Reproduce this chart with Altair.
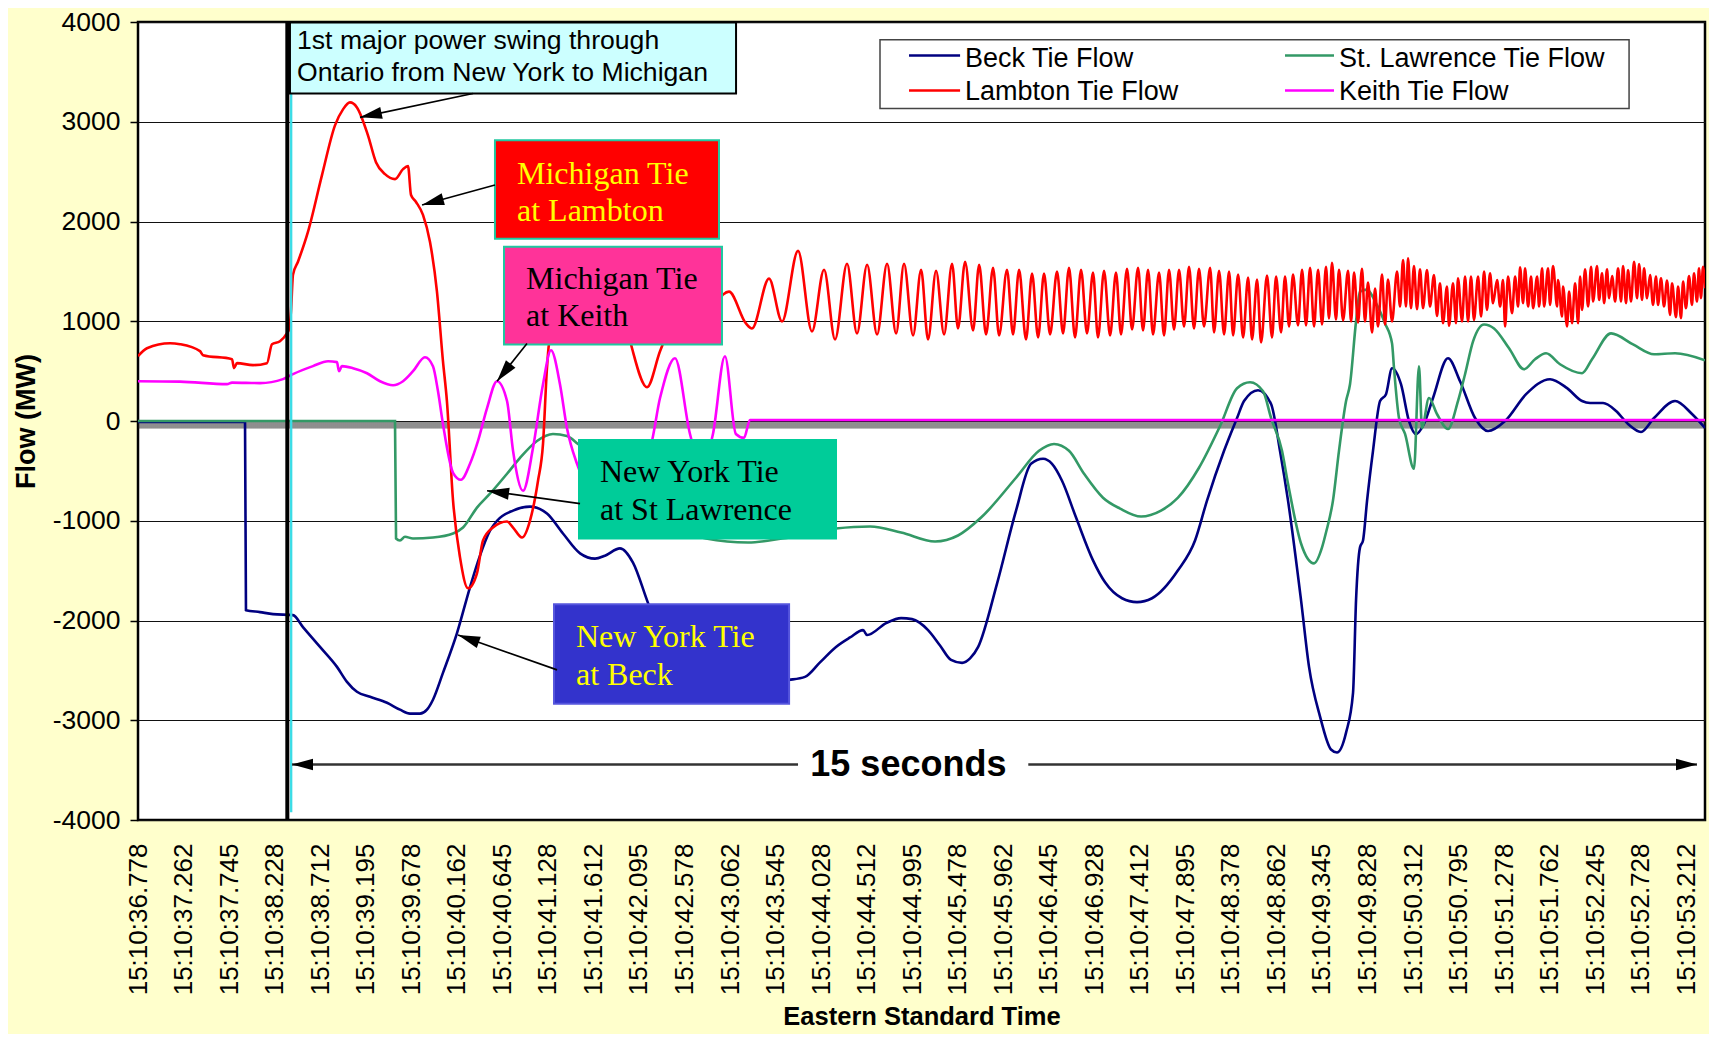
import math
import altair as alt
import pandas as pd

# ---------------- axes / frame ----------------
T0, T1 = 36.778, 53.411          # seconds after 15:10
V0, V1 = -4000, 4000
W, H = 1567, 798

label_times = [36.778, 37.262, 37.745, 38.228, 38.712, 39.195, 39.678, 40.162, 40.645,
               41.128, 41.612, 42.095, 42.578, 43.062, 43.545, 44.028, 44.512, 44.995,
               45.478, 45.962, 46.445, 46.928, 47.412, 47.895, 48.378, 48.862, 49.345,
               49.828, 50.312, 50.795, 51.278, 51.762, 52.245, 52.728, 53.212]
flow_ticks = [-4000, -3000, -2000, -1000, 0, 1000, 2000, 3000, 4000]

# ---------------- series ----------------
beck_t = [36.778, 37.914, 37.924, 38.073, 38.211, 38.423, 38.529, 38.710, 38.890, 38.996,
          39.102, 39.241, 39.421, 39.559, 39.665, 39.771, 39.845, 39.909, 40.015, 40.164,
          40.302, 40.408, 40.514, 40.589, 40.759, 40.939, 41.119, 41.289, 41.470, 41.629,
          41.735, 41.894, 42.032, 42.192, 42.372, 42.637, 43.167, 43.540, 43.689, 43.858,
          44.017, 44.187, 44.336, 44.474, 44.517, 44.719, 44.878, 44.994, 45.164, 45.291,
          45.408, 45.525, 45.610, 45.696, 45.897, 46.098, 46.257, 46.385, 46.480, 46.586,
          46.735, 46.915, 47.043, 47.223, 47.382, 47.541, 47.817, 47.998, 48.125, 48.306,
          48.444, 48.518, 48.667, 48.805, 48.900, 48.985, 49.123, 49.208, 49.325, 49.441,
          49.505, 49.601, 49.675, 49.707, 49.749, 49.781, 49.824, 49.887, 49.962, 50.025,
          50.089, 50.184, 50.269, 50.343, 50.428, 50.524, 50.683, 50.811, 50.970, 51.108,
          51.289, 51.512, 51.766, 51.947, 52.106, 52.191, 52.329, 52.467, 52.594, 52.732,
          52.870, 53.093, 53.273, 53.411]
beck_v = [-10, -10, -1896, -1916, -1936, -1946, -2066, -2265, -2465, -2615,
          -2715, -2765, -2825, -2894, -2934, -2934, -2894, -2794, -2525, -2126,
          -1667, -1350, -1100, -1000, -898, -858, -928, -1128, -1327, -1380,
          -1350, -1277, -1420, -1826, -2250, -2500, -2600, -2610, -2595, -2565,
          -2420, -2265, -2170, -2096, -2146, -2026, -1976, -1986, -2096, -2250,
          -2395, -2425, -2380, -2265, -1627, -898, -429, -379, -430, -599,
          -968, -1397, -1617, -1777, -1816, -1777, -1497, -1198, -798, -299,
          30, 200, 309, 170, -300, -798, -1796, -2465, -2964, -3293,
          -3323, -3124, -2725, -1796, -1267, -1198, -798, -299, 200, 269,
          529, 369, 0, -130, -30, 230, 629, 399, 30, -100,
          0, 269, 419, 329, 200, 180, 180, 100, -30, -110,
          30, 200, 70, -70]

stl_t = [36.778, 39.506, 39.517, 39.559, 39.612, 39.697, 39.909, 40.122, 40.228, 40.376,
         40.514, 40.695, 40.833, 41.013, 41.183, 41.331, 41.449, 41.894, 42.319, 42.637,
         42.807, 43.253, 43.614, 44.187, 44.549, 44.878, 45.238, 45.482, 45.727, 46.098,
         46.342, 46.501, 46.660, 46.820, 47.021, 47.202, 47.425, 47.637, 47.817, 48.040,
         48.264, 48.444, 48.582, 48.720, 48.805, 48.921, 48.985, 49.123, 49.261, 49.346,
         49.388, 49.462, 49.526, 49.601, 49.643, 49.707, 49.749, 49.824, 49.909, 50.015,
         50.089, 50.110, 50.163, 50.227, 50.322, 50.375, 50.407, 50.481, 50.566, 50.683,
         50.789, 50.864, 50.949, 51.066, 51.172, 51.331, 51.490, 51.607, 51.724, 51.872,
         52.106, 52.212, 52.414, 52.647, 52.870, 53.093, 53.411]
stl_v = [0, 0, -1178, -1198, -1160, -1178, -1168, -1128, -1068, -868,
         -729, -529, -369, -200, -130, -150, -230, -600, -950, -1130,
         -1178, -1218, -1178, -1078, -1058, -1118, -1208, -1148, -968, -569,
         -299, -230, -299, -529, -769, -878, -958, -898, -769, -469,
         -50, 329, 389, 299, 30, -299, -629, -1228, -1427, -1267,
         -1118, -798, -299, 200, 369, 1000, 1297, 1317, 1200, 978,
         778, 529, 30, -130, -479, 549, -70, 230, 70, -80,
         200, 469, 798, 968, 928, 729, 519, 619, 679, 569,
         479, 619, 878, 768, 669, 679, 609]

keith_t = [36.778, 37.224, 37.723, 37.776, 38.073, 38.317, 38.423, 38.635, 38.795, 38.890,
           38.911, 38.943, 39.060, 39.209, 39.347, 39.485, 39.591, 39.697, 39.824, 39.909,
           39.962, 40.015, 40.122, 40.206, 40.302, 40.387, 40.483, 40.589, 40.695, 40.759,
           40.865, 40.971, 41.077, 41.162, 41.257, 41.331, 41.438, 41.576, 41.735, 41.894,
           42.213, 42.319, 42.478, 42.637, 42.754, 42.881, 43.008, 43.124, 43.210, 43.274,
           53.411]
keith_v = [399, 395, 370, 385, 380, 420, 470, 550, 599, 590,
           499, 550, 529, 479, 399, 359, 399, 499, 639, 549,
           300, -30, -519, -589, -429, -200, 130, 399, 200, -299,
           -699, -269, 369, 709, 369, -70, -429, -700, -780, -600,
           -269, 230, 629, -130, -450, -130, 649, -130, -169, 10,
           10]

lamb_t = [36.778, 36.873, 37.118, 37.224, 37.436, 37.468, 37.776, 37.797, 37.829, 37.999,
          38.147, 38.200, 38.285, 38.360, 38.381, 38.402, 38.423, 38.476, 38.582, 38.731,
          38.869, 38.954, 39.028, 39.102, 39.219, 39.304, 39.400, 39.506, 39.591, 39.644,
          39.676, 39.729, 39.803, 39.877, 39.951, 40.015, 40.057, 40.122, 40.196, 40.281,
          40.376, 40.440, 40.546, 40.695, 40.759, 40.854, 40.939, 41.024, 41.077, 41.119,
          41.140, 41.364, 41.576, 41.788, 42.011, 42.022, 42.181, 42.319, 42.478, 42.637,
          42.807, 42.987, 43.051, 43.231, 43.295, 43.476, 43.614,
          43.784, 43.932, 44.060, 44.177, 44.304, 44.410, 44.517, 44.623, 44.729, 44.825,
          44.909, 45.005, 45.090, 45.164, 45.249, 45.334, 45.419, 45.482, 45.557, 45.642,
          45.706, 45.780, 45.854, 45.918, 46.002, 46.066, 46.130, 46.204, 46.268, 46.332,
          46.395, 46.459, 46.533, 46.597, 46.660, 46.724, 46.788, 46.851, 46.915, 46.968,
          47.032, 47.096, 47.159, 47.212, 47.276, 47.329, 47.393, 47.446, 47.499, 47.552,
          47.616, 47.669, 47.722, 47.775, 47.828, 47.881, 47.934, 47.987, 48.040, 48.093,
          48.158, 48.200, 48.253, 48.306, 48.359, 48.402, 48.455, 48.508, 48.561, 48.603,
          48.656, 48.699, 48.762, 48.815, 48.858, 48.911, 48.953, 48.996, 49.038, 49.091,
          49.134, 49.176, 49.219, 49.261, 49.304, 49.346, 49.388, 49.420, 49.452, 49.494,
          49.526, 49.569, 49.622, 49.654, 49.686, 49.728, 49.770, 49.802, 49.834, 49.877,
          49.909, 49.940, 49.983, 50.015, 50.046, 50.089, 50.142, 50.174, 50.206, 50.237,
          50.259, 50.290, 50.322, 50.354, 50.386, 50.418, 50.460, 50.492, 50.534, 50.566,
          50.598, 50.630, 50.672, 50.694, 50.736, 50.768, 50.789, 50.832, 50.864, 50.896,
          50.927, 50.959, 51.002, 51.034, 51.066, 51.097, 51.129, 51.161, 51.204, 51.236,
          51.267, 51.289, 51.320, 51.363, 51.395, 51.427, 51.448, 51.480, 51.501, 51.533,
          51.565, 51.586, 51.629, 51.650, 51.682, 51.703, 51.745, 51.766, 51.798, 51.841,
          51.851, 51.894, 51.904, 51.947, 51.968, 52.000, 52.032, 52.064, 52.085, 52.106,
          52.138, 52.170, 52.202, 52.223, 52.265, 52.287, 52.318, 52.340, 52.371, 52.393,
          52.425, 52.457, 52.488, 52.520, 52.541, 52.573, 52.594, 52.626, 52.658, 52.690,
          52.711, 52.743, 52.764, 52.796, 52.828, 52.859, 52.891, 52.912, 52.944, 52.976,
          53.008, 53.040, 53.061, 53.103, 53.125, 53.156, 53.178, 53.209, 53.241, 53.273,
          53.294, 53.326, 53.347, 53.368, 53.390, 53.411]
lamb_v = [650, 730, 780, 770, 700, 660, 620, 530, 580, 560,
          580, 770, 800, 880, 920, 1100, 1467, 1597, 1896, 2465,
          2964, 3124, 3194, 3144, 2864, 2595, 2475, 2425, 2525, 2555,
          2265, 2196, 2066, 1796, 1300, 600, 200, -798, -1367, -1677,
          -1527, -1198, -1068, -1008, -1068, -1168, -998, -599, -230, 529,
          768, 1350, 1500, 1300, 768, 729, 339, 699, 1050, 1300,
          950, 1267, 1297, 978, 928, 1427, 998,
          1706, 898, 1517, 818, 1577, 878, 1567, 868, 1577, 878,
          1577, 858, 1517, 818, 1507, 868, 1577, 928, 1597, 908,
          1567, 868, 1537, 858, 1517, 868, 1517, 818, 1477, 838,
          1477, 868, 1497, 878, 1537, 838, 1517, 878, 1487, 838,
          1507, 858, 1487, 868, 1527, 918, 1537, 908, 1517, 868,
          1487, 858, 1517, 918, 1517, 948, 1547, 928, 1527, 948,
          1537, 888, 1507, 868, 1497, 858, 1467, 838, 1437, 818,
          1417, 788, 1457, 838, 1447, 888, 1447, 948, 1467, 958,
          1517, 958, 1537, 948, 1517, 968, 1547, 1028, 1587, 1018,
          1517, 1008, 1507, 998, 1487, 988, 1527, 998, 1387, 888,
          1327, 948, 1467, 968, 1417, 998, 1497, 1148, 1613, 1148,
          1630, 1131, 1553, 1121, 1520, 1131, 1513, 1148, 1464, 1054,
          1380, 981, 1347, 955, 1380, 981, 1430, 998, 1447, 998,
          1447, 1014, 1447, 1048, 1497, 1114, 1480, 1181, 1414, 1148,
          1414, 948, 1447, 1081, 1447, 1148, 1540, 1181, 1530, 1148,
          1447, 1131, 1447, 1148, 1530, 1148, 1530, 1164, 1553, 1148,
          1414, 1048, 1347, 948, 1297, 981, 1380, 981, 1447, 1114,
          1520, 1148, 1547, 1198, 1553, 1214, 1480, 1181, 1520, 1231,
          1454, 1198, 1530, 1198, 1553, 1181, 1513, 1198, 1597, 1231,
          1573, 1214, 1530, 1231, 1464, 1164, 1447, 1164, 1430, 1148,
          1407, 1064, 1380, 1041, 1347, 1031, 1397, 1131, 1454, 1164,
          1480, 1198, 1530, 1231, 1547, 1330]

series_names = ["Beck Tie Flow", "St. Lawrence Tie Flow", "Lambton Tie Flow", "Keith Tie Flow"]
series_colors = ["#000080", "#339966", "#FF0000", "#FF00FF"]

SANS = "Liberation Sans"
SERIF = "Liberation Serif"

xs = alt.Scale(domain=[T0, T1], nice=False, zero=False)
ys = alt.Scale(domain=[V0, V1], nice=False, zero=False)

xaxis = alt.Axis(values=label_times, labelExpr="'15:10:' + format(datum.value, '.3f')",
                 labelAngle=270, labelAlign="right", labelBaseline="middle",
                 labelFont=SANS, labelFontSize=26, labelColor="black", labelPadding=23,
                 labelOverlap=False, labelFlush=False, labelBound=False,
                 ticks=False, tickSize=0, domain=False, grid=False,
                 title="Eastern Standard Time", titleFont=SANS, titleFontSize=25.5,
                 titleFontWeight="bold", titleColor="black", titlePadding=10)
yaxis = alt.Axis(values=flow_ticks, labelExpr="'' + datum.value",
                 labelFont=SANS, labelFontSize=26.5, labelColor="black", labelPadding=10,
                 ticks=True, tickSize=8, tickColor="black", tickWidth=1.5,
                 domain=False, grid=True, gridColor="#111111", gridWidth=1,
                 title="Flow (MW)", titleFont=SANS, titleFontSize=27, titleFontWeight="bold",
                 titleColor="black", titlePadding=12)


def X(f):
    return alt.X(f, type="quantitative", scale=xs, axis=xaxis)


def Y(f):
    return alt.Y(f, type="quantitative", scale=ys, axis=yaxis)


px_per_s = W / (T1 - T0)
px_per_mw = H / (V1 - V0)


def head_angle(t_from, v_from, t_to, v_to):
    dx = (t_to - t_from) * px_per_s
    dy = -(v_to - v_from) * px_per_mw
    return math.degrees(math.atan2(dx, -dy)) % 360


layers = []

# Excel category-axis tick marks at y = 0 (dense hatch)
step = 2 * (T1 - T0) / W
hatch = alt.Chart(alt.sequence(0, 784, 1, as_="i")).transform_calculate(
    t=f"{T0} + (datum.i + 0.5) * {step}", top="0", bot="-76"
).mark_rule(color="#1e1e1e", strokeWidth=1).encode(x=X("t"), y=Y("top"), y2=alt.Y2("bot"))
layers.append(hatch)

# series (Excel order: Beck, St. Lawrence, Lambton, Keith)
for tt, vv, col in [(beck_t, beck_v, series_colors[0]), (stl_t, stl_v, series_colors[1]),
                    (lamb_t, lamb_v, series_colors[2]), (keith_t, keith_v, series_colors[3])]:
    layers.append(alt.Chart(pd.DataFrame({"t": tt, "v": vv})).mark_line(
        color=col, strokeWidth=2.6, interpolate="monotone", clip=True
    ).encode(x=X("t"), y=Y("v")))

# vertical markers
layers.append(alt.Chart(pd.DataFrame({"t": [38.363], "a": [4000], "b": [-4000]})).mark_rule(
    color="black", strokeWidth=4).encode(x=X("t"), y=Y("a"), y2=alt.Y2("b")))
layers.append(alt.Chart(pd.DataFrame({"t": [38.404], "a": [3283], "b": [-3922]})).mark_rule(
    color="#3ADCE6", strokeWidth=2.3).encode(x=X("t"), y=Y("a"), y2=alt.Y2("b")))

# annotation boxes
box_t1 = [38.391, 40.567, 40.663, 41.459, 41.194]
box_t2 = [43.126, 42.945, 42.977, 44.187, 43.689]
box_v1 = [3995, 2814, 1747, -190, -1836]
box_v2 = [3283, 1826, 768, -1178, -2834]
box_fill = ["#CCFFFF", "#FF0000", "#FF3399", "#00CC99", "#3333CC"]
box_stroke = ["#000000", "#20C8A0", "#20C8A0", "#00CC99", "#5555DD"]
boxes = pd.DataFrame({"t1": box_t1, "t2": box_t2, "v1": box_v1, "v2": box_v2,
                      "fill": box_fill, "stroke": box_stroke})
layers.append(alt.Chart(boxes).mark_rect(strokeWidth=2).encode(
    x=X("t1"), x2=alt.X2("t2"), y=Y("v1"), y2=alt.Y2("v2"),
    fill=alt.Fill("fill:N", scale=None), stroke=alt.Stroke("stroke:N", scale=None)))

# box texts
cyan_txt = pd.DataFrame({"t": [38.466, 38.466], "v": [3733, 3413],
                         "txt": ["1st major power swing through", "Ontario from New York to Michigan"]})
layers.append(alt.Chart(cyan_txt).mark_text(align="left", baseline="alphabetic", font=SANS,
                                             fontSize=26.6, color="black").encode(
    x=X("t"), y=Y("v"), text="txt:N"))

serif_txt = pd.DataFrame({
    "t": [40.801, 40.801, 40.897, 40.897, 41.682, 41.682, 41.427, 41.427],
    "v": [2375, 2006, 1327, 948, -609, -988, -2265, -2645],
    "txt": ["Michigan Tie", "at Lambton", "Michigan Tie", "at Keith",
            "New York Tie", "at St Lawrence", "New York Tie", "at Beck"],
    "col": ["#FFFF00", "#FFFF00", "#000000", "#000000", "#000000", "#000000", "#FFFF00", "#FFFF00"]})
layers.append(alt.Chart(serif_txt).mark_text(align="left", baseline="alphabetic", font=SERIF,
                                              fontSize=32).encode(
    x=X("t"), y=Y("v"), text="txt:N", color=alt.Color("col:N", scale=None)))

# arrows
tail_t = [40.334, 40.567, 40.907, 41.470, 41.226]
tail_v = [3283, 2365, 778, -828, -2495]
tip_t = [39.134, 39.793, 40.589, 40.483, 40.175]
tip_v = [3044, 2166, 399, -699, -2146]
arrows = pd.DataFrame({"t1": tail_t, "v1": tail_v, "t2": tip_t, "v2": tip_v,
                       "ang": [head_angle(a, b, c, d) for a, b, c, d in zip(tail_t, tail_v, tip_t, tip_v)]})
layers.append(alt.Chart(arrows).mark_rule(color="black", strokeWidth=1.6).encode(
    x=X("t1"), x2=alt.X2("t2"), y=Y("v1"), y2=alt.Y2("v2")))
HEAD = "M0,0L-0.55,2L0.55,2Z"
layers.append(alt.Chart(arrows).mark_point(shape=HEAD, filled=True, fill="black", opacity=1,
                                            strokeWidth=0, size=484).encode(
    x=X("t2"), y=Y("v2"), angle=alt.Angle("ang:Q", scale=None)))

# 15 seconds span arrow
span_v = -3443
span = pd.DataFrame({"t1": [38.413, 46.228], "t2": [43.784, 53.326], "v": [span_v, span_v]})
layers.append(alt.Chart(span).mark_rule(color="#333333", strokeWidth=2.5).encode(
    x=X("t1"), x2=alt.X2("t2"), y=Y("v")))
span_heads = pd.DataFrame({"t": [38.413, 53.326], "v": [span_v, span_v], "ang": [270, 90]})
layers.append(alt.Chart(span_heads).mark_point(shape=HEAD, filled=True, fill="black", opacity=1,
                                                strokeWidth=0, size=440).encode(
    x=X("t"), y=Y("v"), angle=alt.Angle("ang:Q", scale=None)))
layers.append(alt.Chart(pd.DataFrame({"t": [44.955], "v": [-3563], "txt": ["15 seconds"]})).mark_text(
    align="center", baseline="alphabetic", font=SANS, fontSize=36, fontWeight="bold", color="black"
).encode(x=X("t"), y=Y("v"), text="txt:N"))

# legend (drawn like the Excel legend box)
layers.append(alt.Chart(pd.DataFrame({"t1": [44.654], "t2": [52.605], "v1": [3822], "v2": [3134]})).mark_rect(
    fill="white", stroke="#444444", strokeWidth=1.5).encode(
    x=X("t1"), x2=alt.X2("t2"), y=Y("v1"), y2=alt.Y2("v2")))
leg = pd.DataFrame({
    "t1": [44.962, 48.953, 44.962, 48.953],
    "t2": [45.504, 49.473, 45.504, 49.473],
    "vl": [3663, 3663, 3313, 3313],
    "tt": [45.557, 49.526, 45.557, 49.526],
    "vt": [3553, 3553, 3214, 3214],
    "name": [series_names[0], series_names[1], series_names[2], series_names[3]],
    "col": [series_colors[0], series_colors[1], series_colors[2], series_colors[3]]})
layers.append(alt.Chart(leg).mark_rule(strokeWidth=2.5).encode(
    x=X("t1"), x2=alt.X2("t2"), y=Y("vl"), color=alt.Color("col:N", scale=None)))
layers.append(alt.Chart(leg).mark_text(align="left", baseline="alphabetic", font=SANS, fontSize=27,
                                        color="black").encode(x=X("tt"), y=Y("vt"), text="name:N"))

chart = alt.layer(*layers).properties(
    width=W, height=H,
    autosize=alt.AutoSizeParams(type="none"),
    padding={"left": 130, "top": 14, "right": 4, "bottom": 214},
).configure(background="#FFFFCC").configure_view(fill="white", stroke="black", strokeWidth=2.5)

chart.save("out.html", embed_options={"renderer": "svg", "actions": False})
